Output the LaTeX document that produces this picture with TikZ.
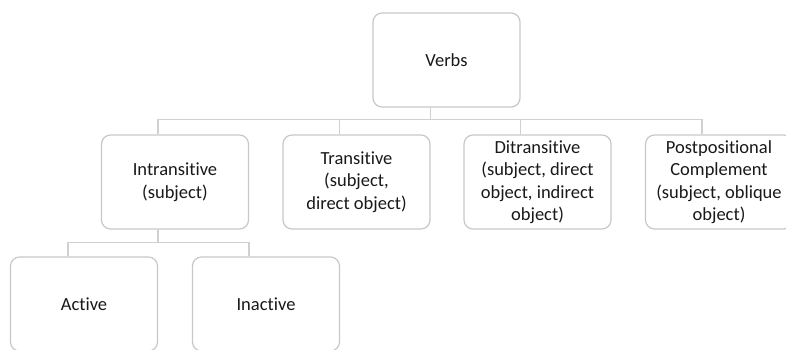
\documentclass[tikz,border=0pt]{standalone}
\usepackage{fontspec}
\setmainfont{Carlito}[Ligatures={NoCommon,NoContextual}]
\definecolor{boxline}{RGB}{200,200,200}
\definecolor{connline}{RGB}{208,208,208}
\begin{document}
\begin{tikzpicture}[x=1pt,y=-1pt,
  box/.style={draw=boxline,line width=1.2pt,rounded corners=9pt,fill=white,
    minimum width=147pt,minimum height=94pt,inner sep=0pt,align=center,
    font=\fontsize{18.5}{22.5}\selectfont,text=black!90},
  conn/.style={draw=connline,line width=1.6pt}]
\clip (0,0) rectangle (786,349);
\fill[white] (0,0) rectangle (786,349);
\node[box] (verbs) at (446.5,60) {Verbs};
\node[box] (intr) at (175,182) {Intransitive\\(subject)};
\node[box] (tran) at (356.5,182) {Transitive\\(subject,\\direct object)};
\node[box] (ditr) at (537.5,182) {Ditransitive\\(subject, direct\\object, indirect\\object)};
\node[box] (post) at (719,182) {Postpositional\\Complement\\(subject, oblique\\object)};
\node[box] (act) at (84,304) {Active};
\node[box] (inact) at (266,304) {Inactive};
\draw[conn] ([xshift=-17pt]intr.north) -- ++(0,-15) -| ([xshift=-16pt]verbs.south);
\draw[conn] ([xshift=-17pt]tran.north) -- ++(0,-15) -| ([xshift=-16pt]verbs.south);
\draw[conn] ([xshift=-17pt]ditr.north) -- ++(0,-15) -| ([xshift=-16pt]verbs.south);
\draw[conn] ([xshift=-17pt]post.north) -- ++(0,-15) -| ([xshift=-16pt]verbs.south);
\draw[conn] ([xshift=-16pt]act.north) -- ++(0,-14) -| ([xshift=-17pt]intr.south);
\draw[conn] ([xshift=-17pt]inact.north) -- ++(0,-14) -| ([xshift=-17pt]intr.south);
\end{tikzpicture}
\end{document}
